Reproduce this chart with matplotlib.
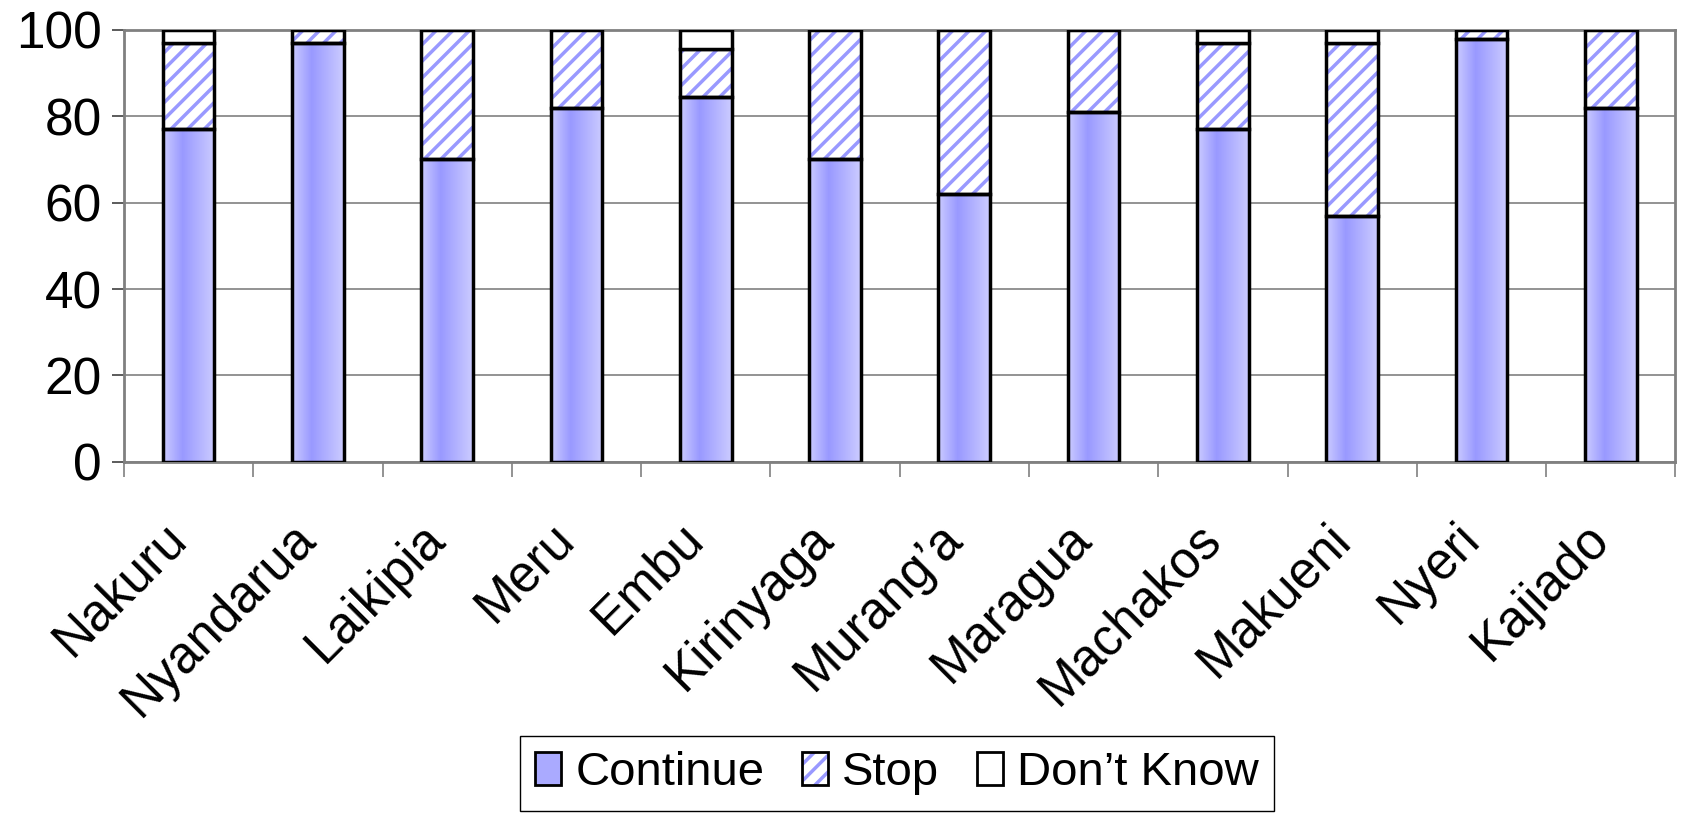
import numpy as np
import matplotlib
matplotlib.use("Agg")
import matplotlib.pyplot as plt
from matplotlib.patches import Rectangle, Patch
from matplotlib.colors import LinearSegmentedColormap
from matplotlib.legend_handler import HandlerTuple

# Survey responses by district (percent)
districts = ["Nakuru", "Nyandarua", "Laikipia", "Meru", "Embu", "Kirinyaga",
             "Murang\u2019a", "Maragua", "Machakos", "Makueni", "Nyeri", "Kajiado"]
continue_pct = [77, 97, 70, 82, 84.5, 70, 62, 81, 77, 57, 98, 82]
stop_pct = [20, 3, 30, 18, 11, 30, 38, 19, 20, 40, 2, 18]
dont_know_pct = [3, 0, 0, 0, 4.5, 0, 0, 0, 3, 3, 0, 0]
series_labels = ["Continue", "Stop", "Don\u2019t Know"]
y_ticks = [0, 20, 40, 60, 80, 100]

plt.rcParams["font.family"] = ["Liberation Sans", "DejaVu Sans"]
plt.rcParams["hatch.linewidth"] = 2.5

FS = 37
LEG_FS = 34
GRID = "#808080"
BLUE_DARK = "#9999ff"
BLUE_LIGHT = "#ccccff"

fig = plt.figure(figsize=(16.82, 8.21), dpi=100)
ax = fig.add_axes([0.0737, 0.4376, 0.9224, 0.5259])

x = np.arange(len(districts))
width = 0.4
edge_lw = 2.5

# horizontal shading used on the "Continue" segments
shade = LinearSegmentedColormap.from_list(
    "shade", [(0.0, BLUE_LIGHT), (0.38, BLUE_DARK), (1.0, BLUE_LIGHT)])
grad = np.linspace(0, 1, 256)[None, :]

for xi, c, s, d in zip(x, continue_pct, stop_pct, dont_know_pct):
    x0 = xi - width / 2
    # Continue
    ax.imshow(grad, cmap=shade, extent=(x0, x0 + width, 0, c),
              aspect="auto", interpolation="bilinear", zorder=2)
    ax.add_patch(Rectangle((x0, 0), width, c, facecolor="none",
                           edgecolor="black", lw=edge_lw, zorder=3))
    # Stop
    if s > 0:
        ax.add_patch(Rectangle((x0, c), width, s, facecolor="white",
                               edgecolor=BLUE_DARK, hatch="//", lw=0, zorder=2))
        ax.add_patch(Rectangle((x0, c), width, s, facecolor="none",
                               edgecolor="black", lw=edge_lw, zorder=3))
    # Don't know
    if d > 0:
        ax.add_patch(Rectangle((x0, c + s), width, d, facecolor="white",
                               edgecolor="black", lw=edge_lw, zorder=3))

ax.set_xlim(-0.5, len(districts) - 0.5)
ax.set_ylim(0, 100)

ax.set_yticks(y_ticks)
ax.set_yticklabels([str(v) for v in y_ticks], fontsize=FS)
ax.tick_params(axis="y", length=9, width=1.2, color="#404040", pad=7)
ax.yaxis.grid(True, color=GRID, lw=1.2, zorder=0)
ax.set_axisbelow(True)

ax.set_xticks(x)
ax.set_xticklabels(districts, fontsize=FS)
ax.tick_params(axis="x", which="major", length=0, pad=57)
plt.setp(ax.get_xticklabels(), rotation=45, ha="right", va="baseline",
         rotation_mode="anchor")
ax.set_xticks(np.arange(len(districts) + 1) - 0.5, minor=True)
ax.tick_params(axis="x", which="minor", length=11, width=1.2, color=GRID)

for sp in ax.spines.values():
    sp.set_color(GRID)
    sp.set_linewidth(2)

handles = [
    Patch(facecolor="#aaaaff", edgecolor="black", lw=2),
    (Patch(facecolor="white", edgecolor=BLUE_DARK, hatch="//", lw=0),
     Patch(facecolor="none", edgecolor="black", lw=2)),
    Patch(facecolor="white", edgecolor="black", lw=2),
]
leg = fig.legend(handles, series_labels, loc="center",
                 bbox_to_anchor=(0.5333, 0.0579), ncol=3, fontsize=LEG_FS,
                 frameon=True, fancybox=False, framealpha=1,
                 edgecolor="black", borderpad=0.32, handlelength=0.55,
                 handleheight=0.7, handletextpad=0.3, columnspacing=0.8,
                 handler_map={tuple: HandlerTuple(ndivide=1)})
leg.get_frame().set_linewidth(1.0)

fig.savefig("out.png", dpi=100)
